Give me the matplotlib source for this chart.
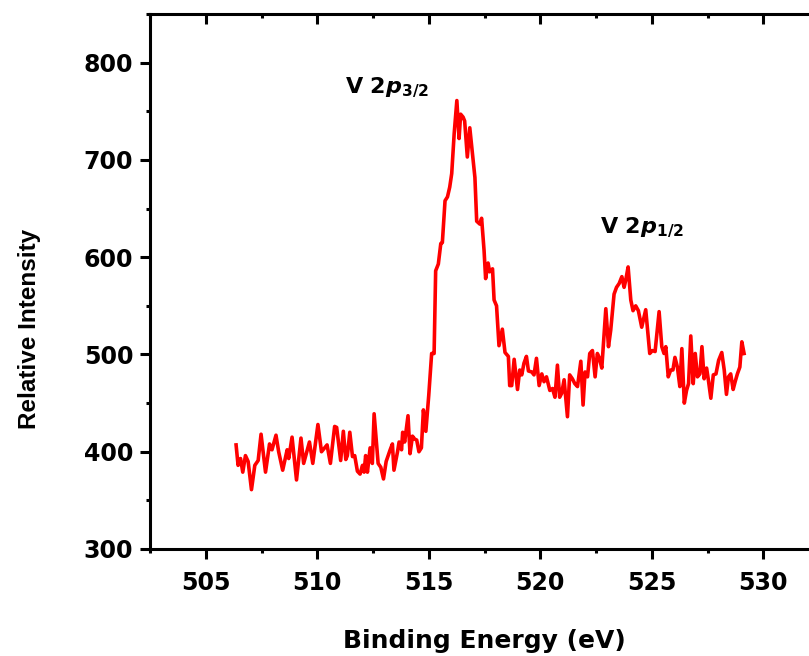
import matplotlib
matplotlib.use('Agg')
import matplotlib.pyplot as plt
from matplotlib.ticker import MultipleLocator

# V 2p XPS spectrum
energy = [
    506.36, 506.45, 506.56, 506.66, 506.78, 506.90, 507.05, 507.20, 507.35, 507.48,
    507.68, 507.86, 507.97, 508.15, 508.27, 508.45, 508.65, 508.72, 508.87, 509.07,
    509.27, 509.39, 509.65, 509.80, 510.03, 510.19, 510.44, 510.59, 510.78, 510.87,
    511.05, 511.17, 511.28, 511.35, 511.46, 511.58, 511.68, 511.80, 511.92, 512.03,
    512.10, 512.17, 512.25, 512.37, 512.47, 512.55, 512.73, 512.85, 512.97, 513.09,
    513.27, 513.37, 513.44, 513.60, 513.67, 513.78, 513.83, 513.92, 514.07, 514.16,
    514.27, 514.37, 514.46, 514.56, 514.67, 514.76, 514.87, 515.00, 515.13, 515.24,
    515.31, 515.43, 515.54, 515.61, 515.73, 515.84, 515.94, 516.03, 516.14, 516.26,
    516.36, 516.43, 516.54, 516.61, 516.73, 516.84, 516.96, 517.07, 517.15, 517.29,
    517.37, 517.48, 517.55, 517.66, 517.73, 517.86, 517.93, 518.04, 518.15, 518.30,
    518.42, 518.57, 518.63, 518.72, 518.83, 518.98, 519.08, 519.17, 519.27, 519.38,
    519.47, 519.62, 519.72, 519.83, 519.95, 520.07, 520.17, 520.28, 520.43, 520.55,
    520.66, 520.77, 520.87, 520.96, 521.07, 521.22, 521.32, 521.44, 521.55, 521.67,
    521.82, 521.92, 522.01, 522.12, 522.22, 522.34, 522.46, 522.56, 522.64, 522.76,
    522.94, 523.06, 523.16, 523.31, 523.42, 523.54, 523.66, 523.76, 523.83, 523.94,
    524.06, 524.16, 524.28, 524.40, 524.55, 524.73, 524.91, 525.03, 525.15, 525.33,
    525.45, 525.55, 525.63, 525.74, 525.85, 525.95, 526.04, 526.15, 526.26, 526.35,
    526.46, 526.56, 526.65, 526.75, 526.86, 526.95, 527.05, 527.16, 527.25, 527.35,
    527.46, 527.55, 527.65, 527.76, 527.88, 528.00, 528.14, 528.25, 528.35, 528.44,
    528.54, 528.65, 528.74, 528.84, 528.95, 529.04, 529.14,
]
intensity = [
    407, 386, 393, 379, 396, 390, 361, 386, 391, 418,
    379, 408, 402, 417, 400, 381, 402, 393, 415, 371,
    414, 388, 410, 388, 428, 400, 407, 388, 426, 425,
    391, 421, 392, 396, 420, 395, 396, 380, 377, 386,
    379, 396, 379, 404, 388, 439, 388, 384, 372, 390,
    402, 408, 381, 400, 410, 402, 420, 410, 437, 398,
    416, 413, 412, 400, 404, 443, 421, 458, 501, 501,
    586, 593, 614, 615, 658, 662, 672, 686, 727, 761,
    722, 747, 744, 740, 703, 733, 706, 682, 637, 634,
    640, 607, 578, 594, 585, 588, 556, 550, 509, 526,
    502, 498, 468, 468, 495, 464, 484, 479, 491, 498,
    483, 482, 479, 496, 468, 480, 472, 477, 463, 465,
    456, 489, 456, 460, 474, 436, 479, 475, 470, 467,
    493, 448, 482, 477, 501, 504, 477, 501, 497, 486,
    547, 508, 525, 562, 569, 573, 580, 569, 576, 590,
    556, 545, 550, 545, 528, 546, 501, 504, 503, 544,
    508, 501, 508, 477, 484, 484, 497, 487, 467, 506,
    450, 463, 470, 519, 470, 501, 477, 480, 508, 475,
    486, 472, 455, 479, 480, 494, 502, 484, 459, 477,
    480, 464, 472, 480, 487, 513, 501,
]

x_ticks = [505, 510, 515, 520, 525, 530]
y_ticks = [300, 400, 500, 600, 700, 800]

plt.rcParams['font.family'] = ['DejaVu Sans']
plt.rcParams['mathtext.fontset'] = 'custom'
plt.rcParams['mathtext.rm'] = 'DejaVu Sans:bold'
plt.rcParams['mathtext.bf'] = 'DejaVu Sans:bold'
plt.rcParams['mathtext.it'] = 'DejaVu Sans:italic:bold'

fig = plt.figure(figsize=(8.09, 6.56), dpi=100)
# the right edge of the frame lies just outside the picture, like the reference
ax = fig.add_axes([150 / 809, 107 / 656, 669 / 809, 535 / 656])

ax.plot(energy, intensity, color='#ff0000', lw=2.6)

ax.set_xlim(502.5, 532.5)
ax.set_ylim(300, 850)
ax.set_xticks(x_ticks)
ax.set_yticks(y_ticks)
ax.xaxis.set_minor_locator(MultipleLocator(2.5))
ax.yaxis.set_minor_locator(MultipleLocator(50))

for s in ['left', 'bottom', 'top']:
    ax.spines[s].set_linewidth(2.2)
ax.spines['right'].set_visible(False)

ax.tick_params(axis='both', which='major', length=7, width=2.2, labelsize=17)
ax.tick_params(axis='both', which='minor', length=3, width=2.2)
ax.tick_params(axis='x', which='both', top=True, pad=9)
ax.tick_params(axis='y', which='major', pad=5)
for lab in ax.get_xticklabels() + ax.get_yticklabels():
    lab.set_fontweight('bold')

# top ticks point inwards, bottom and left ones outwards
for t in ax.xaxis.get_major_ticks() + ax.xaxis.get_minor_ticks():
    t.tick2line.set_marker(3)

ax.set_xlabel('Binding Energy (eV)', fontsize=18, fontweight='bold', labelpad=24)
ax.set_ylabel('Relative Intensity', fontsize=17.5, family='Liberation Sans',
              fontweight='bold')
ax.yaxis.set_label_coords(-0.163, 0.411)

ax.text(511.25, 768, r'V 2$\mathit{p}_{\mathbf{3/2}}$', fontsize=16, fontweight='bold')
ax.text(522.7, 624, r'V 2$\mathit{p}_{\mathbf{1/2}}$', fontsize=16, fontweight='bold')

fig.savefig('out.png', dpi=100)
